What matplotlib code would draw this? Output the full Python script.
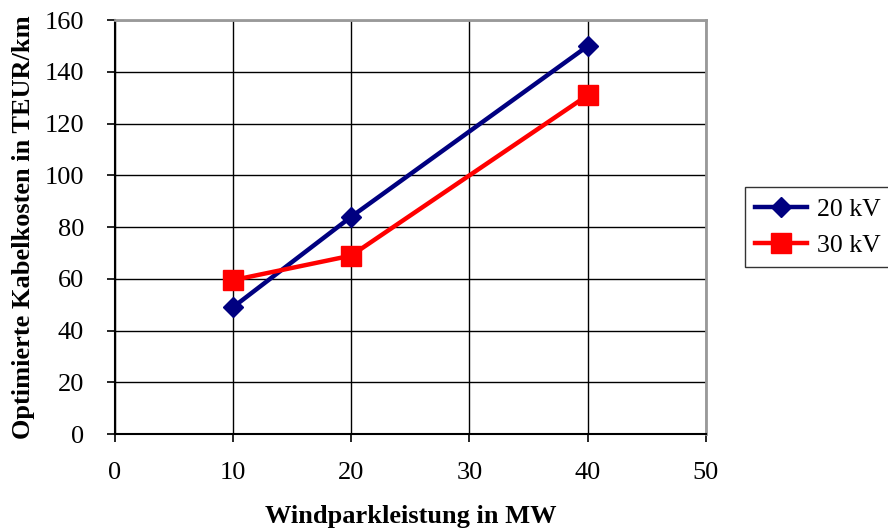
import matplotlib
matplotlib.use("Agg")
import matplotlib.pyplot as plt

# Windparkleistung (MW) vs. optimierte Kabelkosten (TEUR/km)
leistung = [10, 20, 40]
kosten_20kv = [49, 84, 150]
kosten_30kv = [59.5, 69, 131]

plt.rcParams['font.family'] = ['Liberation Serif', 'DejaVu Serif']

fig = plt.figure(figsize=(8.88, 5.32), dpi=100)
ax = fig.add_axes([0.129, 0.184, 0.666, 0.778])

ax.plot(leistung, kosten_20kv, color="#000080", lw=3.2, marker="D", ms=10,
        label="20 kV", zorder=3)
ax.plot(leistung, kosten_30kv, color="#ff0000", lw=3.2, marker="s", ms=14.5,
        label="30 kV", zorder=3)

ax.set_xlim(0, 50)
ax.set_ylim(0, 160)
ax.set_xticks(range(0, 51, 10))
ax.set_yticks(range(0, 161, 20))
ax.grid(True, color="black", lw=1.0)
ax.set_axisbelow(True)

for s in ["top", "right"]:
    ax.spines[s].set_color("#999999")
    ax.spines[s].set_linewidth(2)
for s in ["left", "bottom"]:
    ax.spines[s].set_color("black")
    ax.spines[s].set_linewidth(1.5)

ax.tick_params(direction="out", length=6, width=1.2, labelsize=19)
ax.tick_params(axis="y", pad=16)
ax.tick_params(axis="x", pad=14)

ax.set_xlabel("Windparkleistung in MW", fontsize=19, fontweight="bold", labelpad=15)
ax.set_ylabel("Optimierte Kabelkosten in TEUR/km", fontsize=19, fontweight="bold", labelpad=7)

leg = ax.legend(loc="center left", bbox_to_anchor=(1.066, 0.5), fontsize=18.5,
                frameon=True, fancybox=False, edgecolor="black",
                handlelength=2.0, handletextpad=0.4, borderpad=0.4,
                borderaxespad=0, labelspacing=0.5)
leg.get_frame().set_linewidth(1.0)

fig.savefig("out.png", dpi=100)
